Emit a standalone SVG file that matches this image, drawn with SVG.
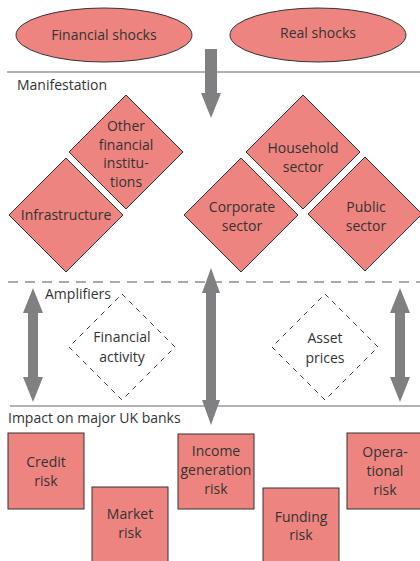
<svg xmlns="http://www.w3.org/2000/svg" width="420" height="561" viewBox="0 0 420 561">
<style>
.n{fill:#ee8480;stroke:#333;stroke-width:1}
.d{fill:none;stroke:#222;stroke-width:0.9;stroke-dasharray:5 5}
.t{font-family:"Open Sans","Noto Sans",sans-serif;font-size:14px;fill:#333;text-anchor:middle}
.l{font-family:"Open Sans","Noto Sans",sans-serif;font-size:14px;fill:#333}
.a{fill:#808083}
</style>
<rect width="420" height="561" fill="#fff"/>
<g id="sections">
<line x1="7" y1="72" x2="420" y2="72" stroke="#666" stroke-width="1.2"/>
<line x1="8" y1="282" x2="420" y2="282" stroke="#555" stroke-width="1.2" stroke-dasharray="10 7"/>
<line x1="10" y1="406" x2="420" y2="406" stroke="#666" stroke-width="1.2"/>
<text class="l" x="17" y="90">Manifestation</text>
<text class="l" x="45" y="299">Amplifiers</text>
<text class="l" x="8" y="423">Impact on major UK banks</text>
</g>
<g id="connectors">
<polygon class="a" points="205,49 217,49 217,93 221,93 211,118 201,93 205,93"/>
<polygon class="a" points="33,288 43,313 38,313 38,377 43,377 33,402 23,377 28,377 28,313 23,313"/>
<polygon class="a" points="211,268 220,293 216,293 216,400 220,400 211,425 202,400 206,400 206,293 202,293"/>
<polygon class="a" points="400,288 410,313 405,313 405,377 410,377 400,402 390,377 395,377 395,313 390,313"/>
</g>
<g id="financial-shocks">
<ellipse class="n" cx="104" cy="35" rx="88" ry="27"/>
<text class="t" x="104" y="40">Financial shocks</text>
</g>
<g id="real-shocks">
<ellipse class="n" cx="318" cy="35" rx="88" ry="27"/>
<text class="t" x="318" y="38">Real shocks</text>
</g>
<g id="other-financial">
<polygon class="n" points="126,95 183,152 126,209 69,152"/>
<text class="t" x="126" y="131">Other</text>
<text class="t" x="126" y="150">financial</text>
<text class="t" x="126" y="168">institu-</text>
<text class="t" x="126" y="187">tions</text>
</g>
<g id="infrastructure">
<polygon class="n" points="66,158 123,215 66,272 9,215"/>
<text class="t" x="66" y="220">Infrastructure</text>
</g>
<g id="household">
<polygon class="n" points="303,95 360,152 303,209 246,152"/>
<text class="t" x="303" y="153">Household</text>
<text class="t" x="303" y="172">sector</text>
</g>
<g id="corporate">
<polygon class="n" points="241,158 298,215 241,272 184,215"/>
<text class="t" x="242" y="212">Corporate</text>
<text class="t" x="242" y="231">sector</text>
</g>
<g id="public">
<polygon class="n" points="365,157 422,214 365,271 308,214"/>
<text class="t" x="366" y="212">Public</text>
<text class="t" x="366" y="231">sector</text>
</g>
<g id="financial-activity">
<polygon class="d" points="122,294 175,347 122,400 69,347"/>
<text class="t" x="122" y="342">Financial</text>
<text class="t" x="122" y="362">activity</text>
</g>
<g id="asset-prices">
<polygon class="d" points="325,294 378,347 325,400 272,347"/>
<text class="t" x="325" y="343">Asset</text>
<text class="t" x="325" y="363">prices</text>
</g>
<g id="credit-risk">
<rect class="n" x="8" y="433" width="76" height="76"/>
<text class="t" x="46" y="467">Credit</text>
<text class="t" x="46" y="486">risk</text>
</g>
<g id="market-risk">
<rect class="n" x="92" y="487" width="76" height="76"/>
<text class="t" x="130" y="519">Market</text>
<text class="t" x="130" y="538">risk</text>
</g>
<g id="income-risk">
<rect class="n" x="178" y="434" width="76" height="75"/>
<text class="t" x="216" y="456">Income</text>
<text class="t" x="216" y="475">generation</text>
<text class="t" x="216" y="494">risk</text>
</g>
<g id="funding-risk">
<rect class="n" x="263" y="488" width="76" height="76"/>
<text class="t" x="301" y="522">Funding</text>
<text class="t" x="301" y="540">risk</text>
</g>
<g id="operational-risk">
<rect class="n" x="347" y="433" width="76" height="76"/>
<text class="t" x="385" y="457">Opera-</text>
<text class="t" x="385" y="476">tional</text>
<text class="t" x="385" y="495">risk</text>
</g>
</svg>
